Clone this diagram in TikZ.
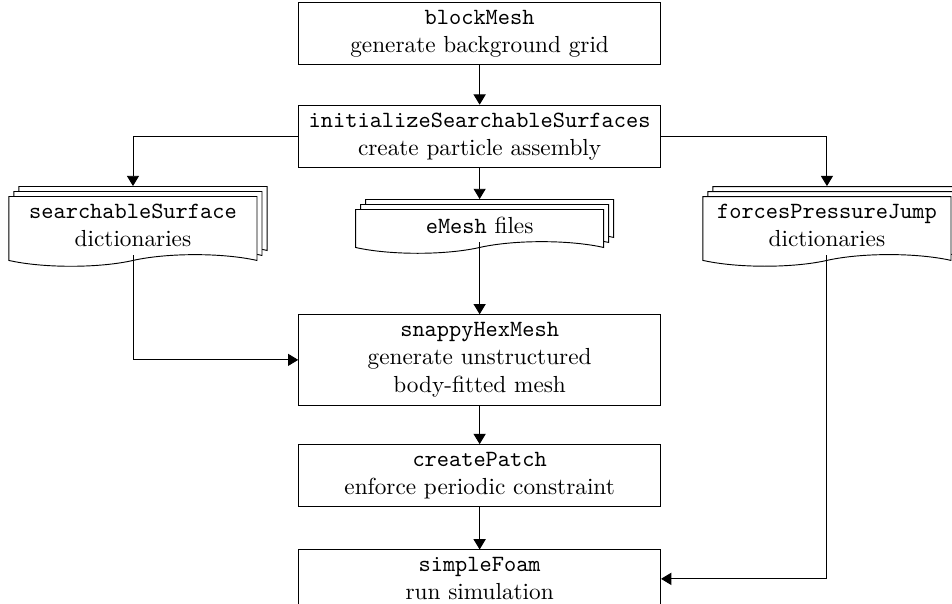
\documentclass[tikz,border=0pt]{standalone}
\usepackage{tikz}
\usetikzlibrary{arrows.meta,shapes.symbols,shadows}

\begin{document}
\begin{tikzpicture}[
    proc/.style={draw, fill=white, align=center, minimum width=5.47cm},
    docs/.style={draw, fill=white, align=center, minimum width=3.75cm,
        tape, tape bend top=none,
        copy shadow={shadow xshift=1ex, shadow yshift=1ex},
        copy shadow={shadow xshift=.5ex, shadow yshift=.5ex}},
    flow/.style={-{Triangle[width=5.2pt,length=4.4pt]}}
]
\useasboundingbox (0,0) rectangle (14.39,-9.13);

% main chain
\node[proc] (bm) at (7.25,-0.506) {\texttt{blockMesh}\\generate background grid};
\node[proc] (init) at (7.25,-2.063) {\texttt{initializeSearchableSurfaces}\\create particle assembly};
\node[proc] (snappy) at (7.25,-5.44) {\texttt{snappyHexMesh}\\generate unstructured\\body-fitted mesh};
\node[proc] (cpatch) at (7.25,-7.19) {\texttt{createPatch}\\enforce periodic constraint};
\node[proc] (sfoam) at (7.25,-8.75) {\texttt{simpleFoam}\\run simulation};

% input files
\node[docs] (ss) at (2.01,-3.41) {\texttt{searchableSurface}\\dictionaries};
\node[docs] (emesh) at (7.25,-3.41) {\texttt{eMesh} files};
\node[docs] (fpj) at (12.50,-3.41) {\texttt{forcesPressureJump}\\dictionaries};

\draw[flow] (bm) -- (init);
\draw[flow] (init.west) -| ([yshift=1ex]ss.north);
\draw[flow] (init.south) -- ([yshift=1ex]emesh.north);
\draw[flow] (init.east) -| ([yshift=1ex]fpj.north);
\draw[flow] (emesh.south) -- (snappy.north);
\draw[flow] (ss.south) |- (snappy.west);
\draw[flow] (snappy) -- (cpatch);
\draw[flow] (cpatch) -- (sfoam);
\draw[flow] (fpj.south) |- (sfoam.east);
\end{tikzpicture}
\end{document}
